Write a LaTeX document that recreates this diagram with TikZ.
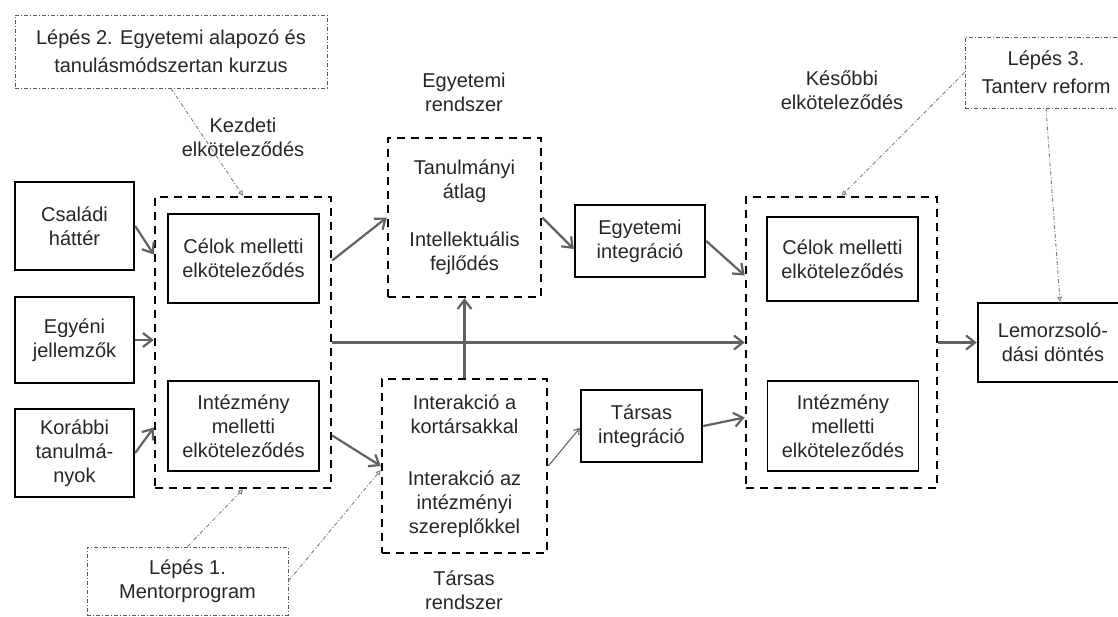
\documentclass[tikz,border=0pt]{standalone}
\usepackage{fontspec}
\setmainfont{Liberation Sans}
\usetikzlibrary{arrows.meta}
\begin{document}
\begin{tikzpicture}[x=1pt,y=-1pt,
    every node/.style={font=\fontsize{20}{24}\selectfont, align=center, inner sep=0pt, text=black!85},
    inbox/.style={draw, line width=2.4pt, minimum width=119pt, minimum height=87pt},
    innerbox/.style={draw, line width=1.3pt, minimum width=151pt},
    groupbox/.style={draw, line width=2.5pt, dash pattern=on 8pt off 6pt},
    stepbox/.style={draw=black!65, line width=0.9pt, dash pattern=on 4pt off 2pt on 1pt off 2pt},
    arr/.style={draw=black!62, line width=2.2pt, -{Straight Barb[length=9pt,width=14pt]}},
    steparr/.style={draw=black!50, line width=0.9pt, dash pattern=on 4pt off 2pt on 1pt off 2pt,
        -{Triangle[open,length=5pt,width=5pt]}}]
    \useasboundingbox (0,0) rectangle (1118,617);
    \clip (0,0) rectangle (1118,617);

    % Intervention steps
    \node[stepbox, minimum width=312pt, minimum height=73pt] (step2) at (171,51.5)
        {Lépés 2. Egyetemi alapozó és\\[4pt]tanulásmódszertan kurzus};
    \node[stepbox, minimum width=201pt, minimum height=68pt] (step1) at (187.5,581)
        {Lépés 1.\\Mentorprogram};
    \node[stepbox, minimum width=162pt, minimum height=71pt] (step3) at (1046,72.5)
        {Lépés 3.\\[4pt]Tanterv reform};

    % Background factors
    \node[inbox, minimum height=88pt] (csaladi) at (74.5,226) {Családi\\háttér};
    \node[inbox, minimum height=86pt] (egyeni) at (74.5,340) {Egyéni\\jellemzők};
    \node[inbox, minimum height=88pt] (korabbi) at (74.5,453) {Korábbi\\tanulmá-\\nyok};

    % Initial commitment
    \node[groupbox, minimum width=176pt, minimum height=291pt] (kezd) at (243,342.5) {};
    \node[innerbox, minimum height=89pt] (kcel) at (243.5,258.5) {Célok melletti\\elköteleződés};
    \node[innerbox, minimum height=90pt] (kint) at (243.5,426) {Intézmény\\melletti\\elköteleződés};
    \node (kezdlbl) at (243,137) {Kezdeti\\elköteleződés};

    % Academic and social systems
    \node[groupbox, minimum width=153pt, minimum height=159pt] (tanul) at (464.5,217.5)
        {Tanulmányi\\átlag\\[24pt]Intellektuális\\fejlődés};
    \node (egyrend) at (464,92) {Egyetemi\\rendszer};
    \node[groupbox, minimum width=165pt, minimum height=174pt] (interakc) at (464.5,466)
        {Interakció a\\kortársakkal\\[28pt]Interakció az\\intézményi\\szereplőkkel};
    \node (tarsrend) at (464,590) {Társas\\rendszer};
    \node[draw, line width=2.4pt, minimum width=130pt, minimum height=72pt] (egyint) at (640,241)
        {Egyetemi\\integráció};
    \node[draw, line width=2.4pt, minimum width=121pt, minimum height=72pt] (tarsint) at (641.5,426)
        {Társas\\integráció};

    % Later commitment
    \node[groupbox, minimum width=191pt, minimum height=291pt] (kes) at (841.5,342.5) {};
    \node[innerbox, minimum height=84pt] (rcel) at (842.5,259) {Célok melletti\\elköteleződés};
    \node[innerbox, minimum height=90pt] (rint) at (843,426) {Intézmény\\melletti\\elköteleződés};
    \node (keslbl) at (842,90.5) {Későbbi\\elköteleződés};

    % Outcome
    \node[draw, line width=2.4pt, minimum width=150pt, minimum height=79pt] (lemorz) at (1053,342.5)
        {Lemorzsoló-\\dási döntés};

    % Main arrows
    \draw[arr] (csaladi.east) -- ([yshift=88pt]kezd.west);
    \draw[arr] (egyeni.east) -- (egyeni.east -| kezd.west);
    \draw[arr] (korabbi.east) -- ([yshift=-85pt]kezd.west);
    \draw[arr] ([yshift=82pt]kezd.east) -- (tanul.west);
    \draw[arr] ([yshift=-93pt]kezd.east) -- (interakc.west);
    \draw[arr] (tanul.east) -- ([yshift=-8pt]egyint.west);
    \draw[arr] (interakc.north) -- (tanul.south);
    \draw[draw=black!60, line width=1.1pt, -{Straight Barb[length=5pt,width=7pt]}]
        (interakc.east) -- ([yshift=-2pt]tarsint.west);
    \draw[arr] (kezd.east) -- (kes.west);
    \draw[arr] (egyint.east) -- ([yshift=67pt]kes.west);
    \draw[arr] (tarsint.east) -- ([yshift=-75pt]kes.west);
    \draw[arr] (kes.east) -- (lemorz.west);

    % Intervention arrows
    \draw[steparr] (step2.south) -- (kezd.north);
    \draw[steparr] (step1.north) -- (kezd.south);
    \draw[steparr] (step1.east) -- ([yshift=-4pt]interakc.west);
    \draw[steparr] (step3.west) -- (kes.north);
    \draw[steparr] (step3.south) -- ([xshift=7pt]lemorz.north);
\end{tikzpicture}
\end{document}
